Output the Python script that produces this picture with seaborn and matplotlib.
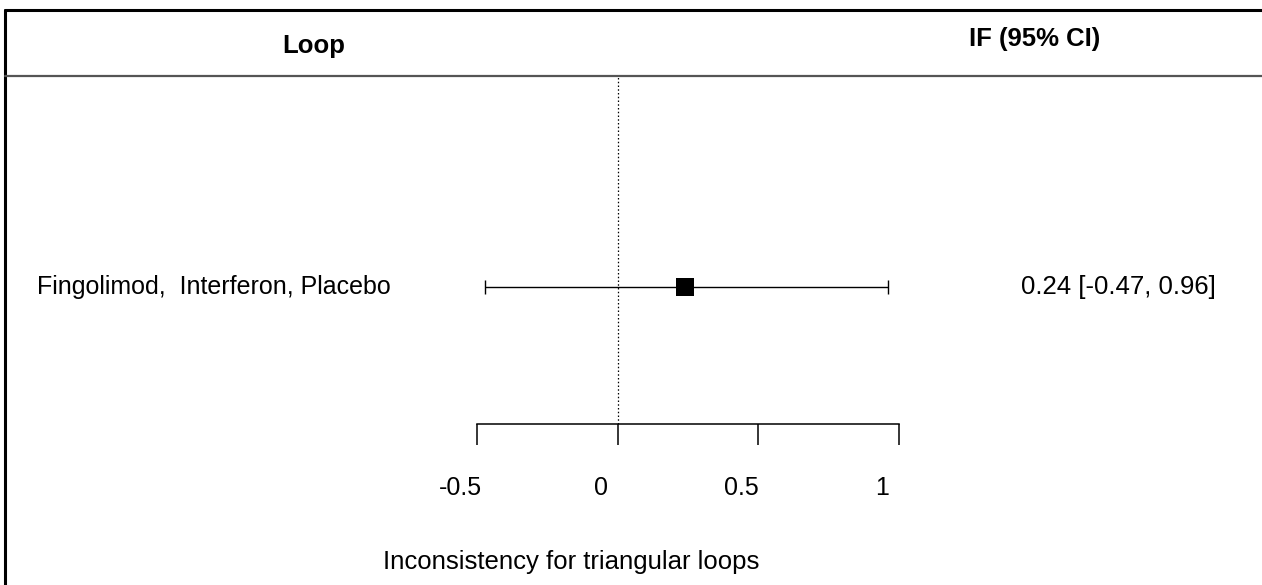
import matplotlib
matplotlib.use("Agg")
import matplotlib.pyplot as plt
import matplotlib.transforms as mtransforms
from matplotlib.lines import Line2D
import seaborn as sns
import pandas as pd

# ---- data ----
loops = ["Fingolimod,  Interferon, Placebo"]
estimates = [0.24]
lower = [-0.47]
upper = [0.96]
ci_labels = ["0.24 [-0.47, 0.96]"]
tick_values = [-0.5, 0, 0.5, 1]
tick_labels = ["-0.5", "0", "0.5", "1"]
header_left = "Loop"
header_right = "IF (95% CI)"
x_title = "Inconsistency for triangular loops"

sns.set_theme(style="white")
plt.rcParams["font.family"] = ["Liberation Sans", "DejaVu Sans"]

W, H = 1262, 585
fig = plt.figure(figsize=(W / 100, H / 100), dpi=100)
fig.patch.set_facecolor("white")

def fx(px):
    return px / W

def fy(py):
    return 1 - py / H

ax_left, ax_right, ax_top, ax_bottom = 477, 899, 76, 424
ax = fig.add_axes([fx(ax_left), fy(ax_bottom), (ax_right - ax_left) / W, (ax_bottom - ax_top) / H])
ax.set_facecolor("none")

df = pd.DataFrame({"loop": loops, "est": estimates, "lo": lower, "hi": upper,
                   "row": list(range(len(loops)))})

# CI lines with caps
ax.errorbar(df["est"], df["row"],
            xerr=[df["est"] - df["lo"], df["hi"] - df["est"]],
            fmt="none", ecolor="black", elinewidth=1.0, capsize=5, capthick=1.0,
            zorder=2)
sns.scatterplot(data=df, x="est", y="row", marker="s", s=165, color="black",
                edgecolor="black", linewidth=0, ax=ax, zorder=3, legend=False)

# null line
ax.axvline(0, ymin=0, ymax=1, color="black", linestyle=(0, (1.2, 1.8)), linewidth=0.9,
           zorder=1)

ax.set_xlim(-0.5, 1)
ax.set_ylim(-1, 211 / 137)
ax.set_xlabel("")
ax.set_ylabel("")
ax.set_yticks([])
for s in ["top", "right", "left"]:
    ax.spines[s].set_visible(False)
ax.spines["bottom"].set_color("black")
ax.spines["bottom"].set_linewidth(1.1)
ax.spines["bottom"].set_bounds(-0.5, 1)

ax.set_xticks(tick_values)
ax.set_xticklabels(tick_labels)
ax.tick_params(axis="x", direction="out", length=15, width=1.1, color="black",
               pad=22.5, labelsize=18, labelcolor="black", bottom=True)
shift = mtransforms.ScaledTranslation(-17 / 100, 0, fig.dpi_scale_trans)
for lab in ax.get_xticklabels():
    lab.set_transform(lab.get_transform() + shift)

# row labels and CI text
btrans = mtransforms.blended_transform_factory(fig.transFigure, ax.transData)
for i, r in df.iterrows():
    ax.text(fx(37), r["row"], r["loop"], transform=btrans, ha="left", va="center",
            fontsize=18, color="black")
    ax.text(fx(1216), r["row"], ci_labels[i], transform=btrans, ha="right", va="center",
            fontsize=18.5, color="black")

# headers
fig.text(fx(314), fy(46), header_left, ha="center", va="center", fontsize=18.5,
         fontweight="bold", color="black")
fig.text(fx(1035), fy(39), header_right, ha="center", va="center", fontsize=18.5,
         fontweight="bold", color="black")

# x title
fig.text(fx(571), fy(562), x_title, ha="center", va="center", fontsize=18.5, color="black")

# frame lines
fig.add_artist(Line2D([fx(5), 1], [fy(10), fy(10)], color="black", linewidth=2.2,
                      transform=fig.transFigure))
fig.add_artist(Line2D([fx(5), fx(5)], [fy(10), 0], color="black", linewidth=2.2,
                      transform=fig.transFigure))
fig.add_artist(Line2D([fx(5), 1], [fy(76), fy(76)], color="#555555", linewidth=1.6,
                      transform=fig.transFigure))

fig.savefig("out.png", dpi=100, facecolor="white")
